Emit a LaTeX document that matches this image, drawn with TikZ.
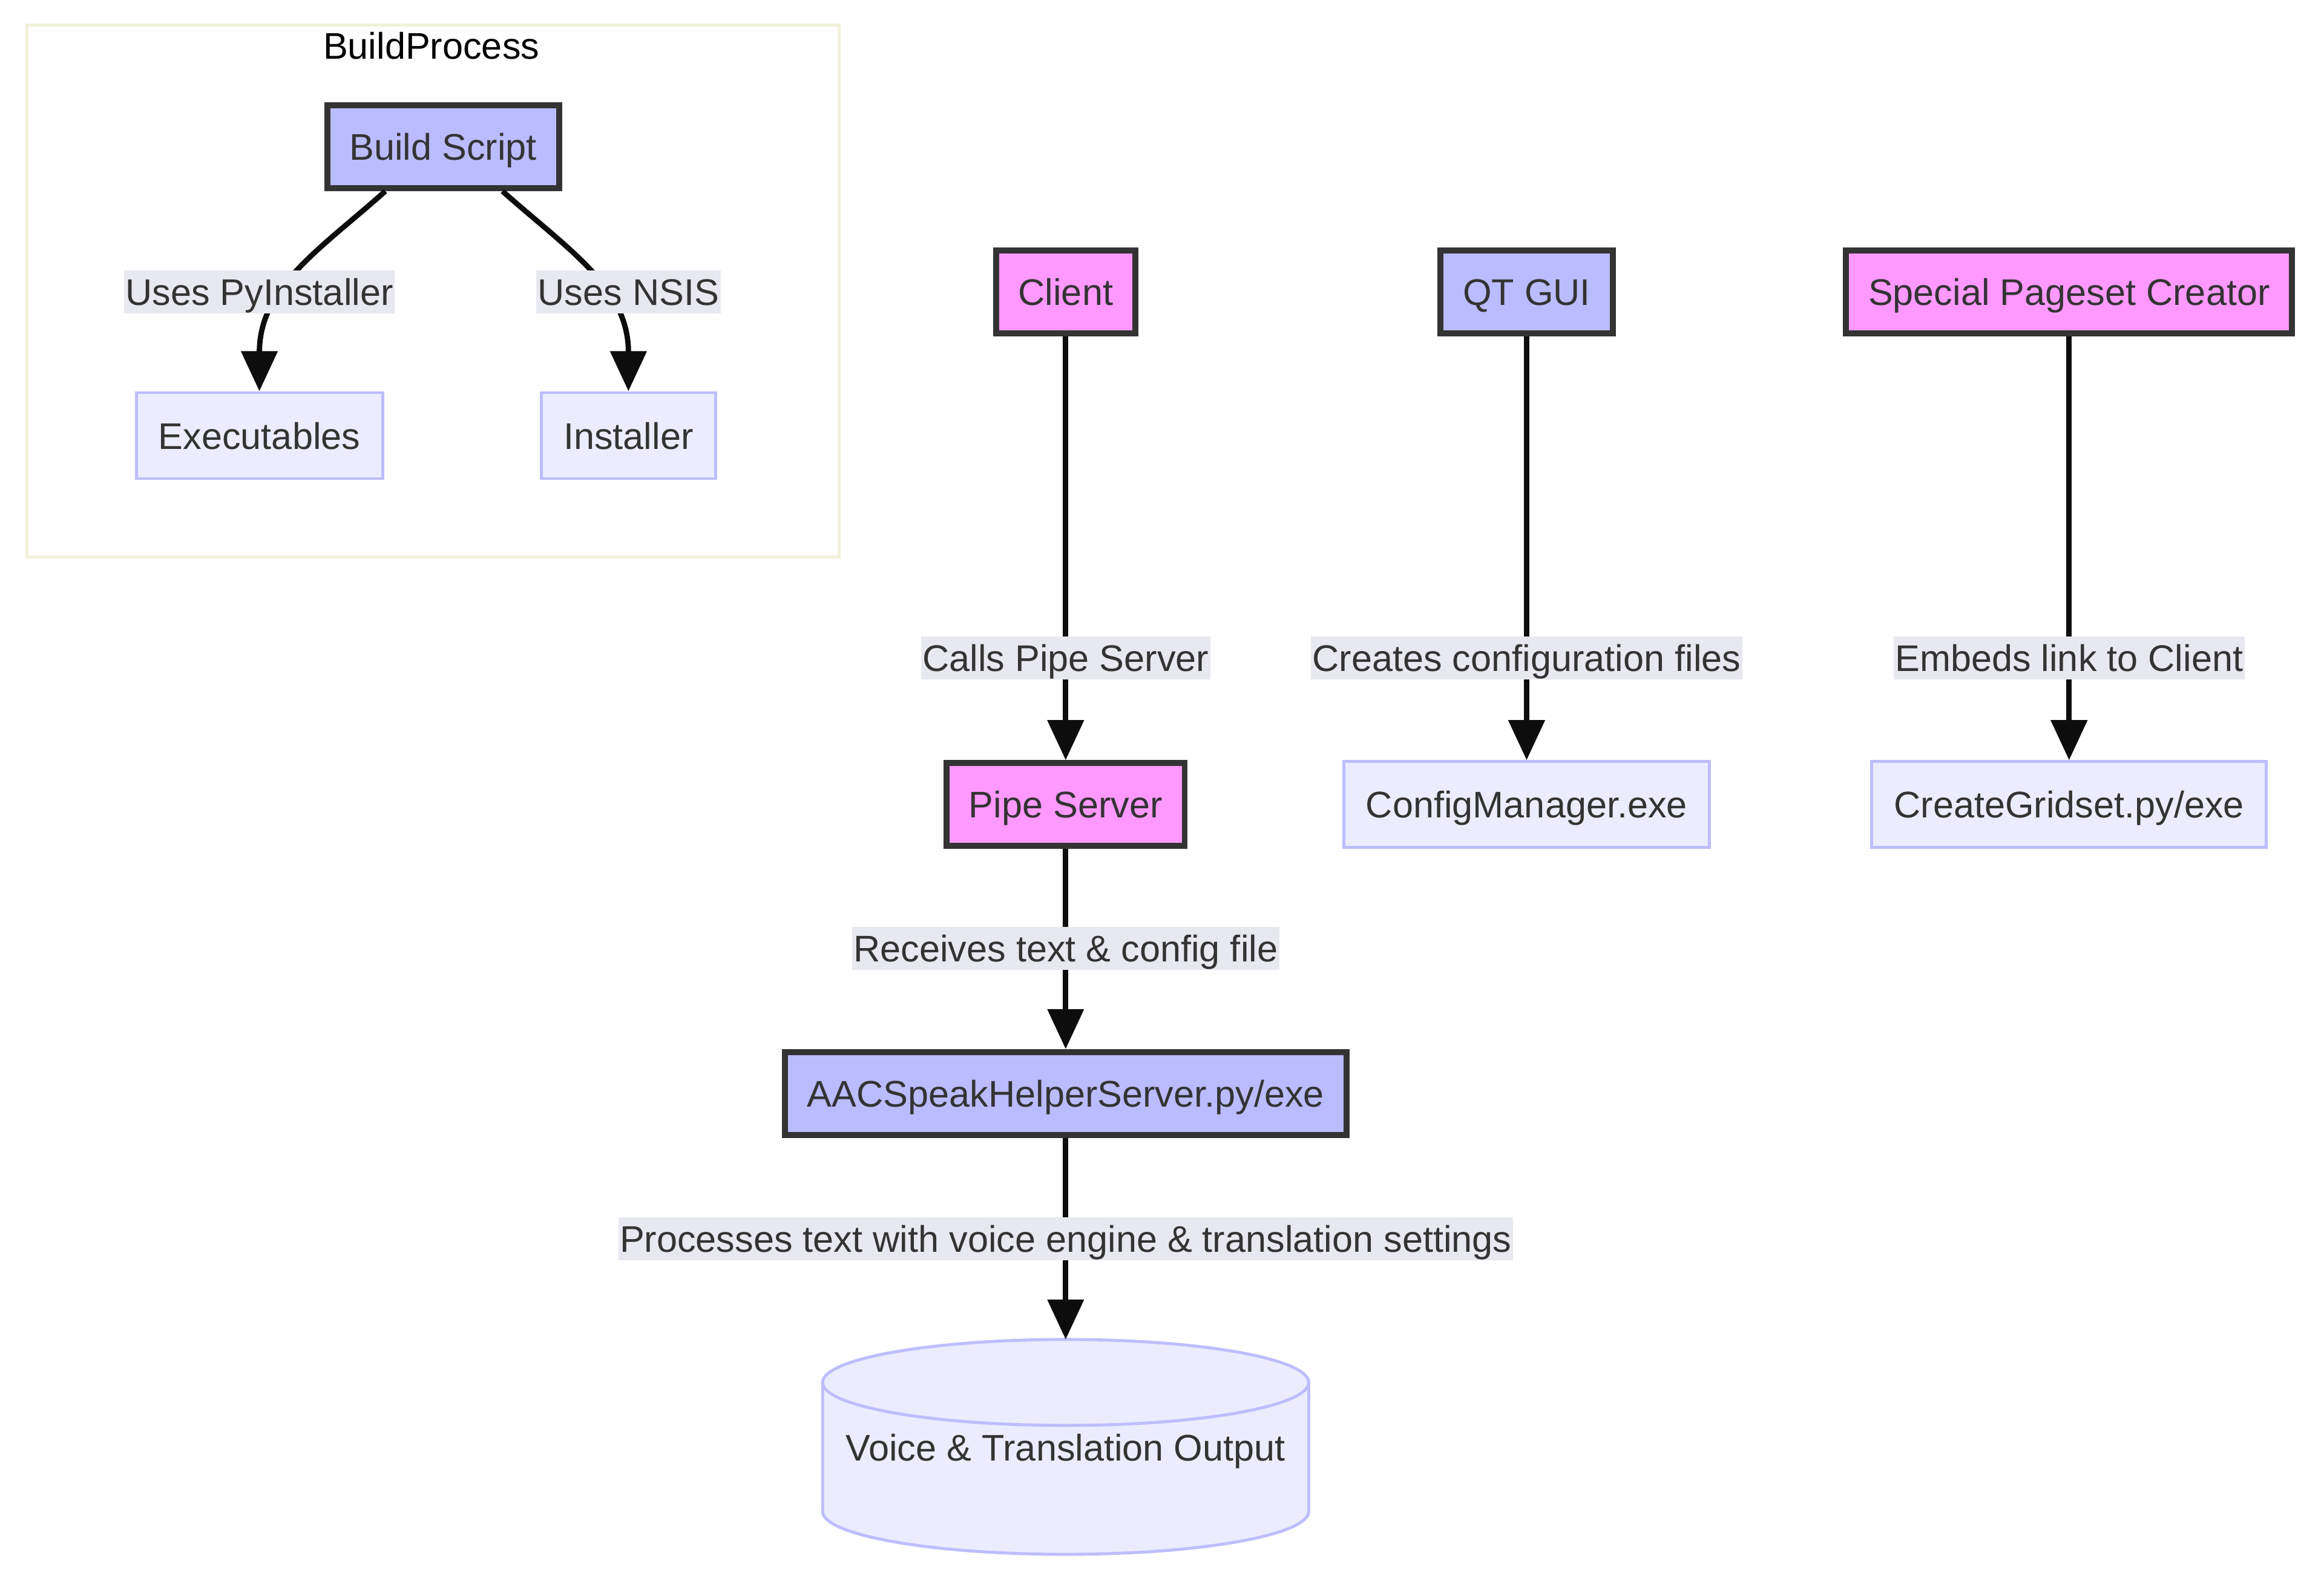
\documentclass[tikz,border=0pt]{standalone}
\usepackage{fontspec}
\setmainfont{Liberation Sans}
\usetikzlibrary{arrows.meta}
\definecolor{procpink}{HTML}{FF99FF}
\definecolor{procblue}{HTML}{BBBBFF}
\definecolor{inkgrey}{HTML}{333333}
\definecolor{filelilac}{HTML}{ECECFF}
\definecolor{fileline}{HTML}{BDBDFF}
\definecolor{labelgrey}{HTML}{E8E8F0}
\definecolor{clusterline}{HTML}{F2F2DC}
\definecolor{arrowblack}{HTML}{0D0D0D}
\begin{document}
\begin{tikzpicture}[x=1pt,y=-1pt,
  box/.style={rectangle,inner xsep=15pt,inner ysep=0pt,text height=23pt,text depth=5pt,
    font=\fontsize{25}{30}\selectfont,text=inkgrey},
  main/.style={box,draw=inkgrey,line width=4pt,minimum height=56pt},
  pinkproc/.style={main,fill=procpink},
  blueproc/.style={main,fill=procblue},
  file/.style={box,draw=fileline,fill=filelilac,line width=2pt,minimum height=58pt},
  lbl/.style={box,fill=labelgrey,inner xsep=1pt,inner ysep=0.5pt},
  edge/.style={line width=3.6pt,draw=arrowblack,-{Triangle[length=27pt,width=24pt]}}]
  \useasboundingbox (0,0) rectangle (1568,1071);
  \draw[clusterline,line width=2pt,fill=white] (18,17) rectangle (566,376);
  \node[box,text=black,inner sep=0pt] (bptitle) at (291,31) {BuildProcess};

  \node[blueproc] (bs) at (299,99) {Build Script};
  \node[file] (exe) at (175,294) {Executables};
  \node[file] (inst) at (424,294) {Installer};
  \node[pinkproc] (client) at (719,197) {Client};
  \node[blueproc] (qt) at (1030,197) {QT GUI};
  \node[pinkproc] (spc) at (1396,197) {Special Pageset Creator};
  \node[pinkproc] (pipe) at (719,543) {Pipe Server};
  \node[file] (cfg) at (1030,543) {ConfigManager.exe};
  \node[file] (grid) at (1396,543) {CreateGridset.py/exe};
  \node[blueproc] (aac) at (719,738) {AACSpeakHelperServer.py/exe};

  \filldraw[fill=filelilac,draw=fileline,line width=2pt] (555,933) -- (555,1020)
    arc (180:0:164 and 29) -- (883,933) arc (0:-180:164 and 29) -- cycle;
  \draw[fileline,line width=2pt] (555,933) arc (180:0:164 and 29);
  \coordinate (outtop) at (719,904);
  \node[box] (out) at (719,977) {Voice \& Translation Output};

  \foreach \a/\b in {client/pipe,qt/cfg,spc/grid,pipe/aac}
    \draw[edge] (\a) -- (\b);
  \draw[edge] (aac) -- (outtop);
  \draw[edge] ([xshift=-39pt]bs.south) .. controls +(-45,40) and +(0,-70) .. (exe.north);
  \draw[edge] ([xshift=40pt]bs.south) .. controls +(45,40) and +(0,-70) .. (inst.north);

  \node[lbl] (lpy) at (175,197) {Uses PyInstaller};
  \node[lbl] (lnsis) at (424,197) {Uses NSIS};
  \node[lbl] (lcalls) at (719,444) {Calls Pipe Server};
  \node[lbl] (lcreates) at (1030,444) {Creates configuration files};
  \node[lbl] (lembeds) at (1396,444) {Embeds link to Client};
  \node[lbl] (lreceives) at (719,640) {Receives text \& config file};
  \node[lbl] (lprocesses) at (719,836) {Processes text with voice engine \& translation settings};
\end{tikzpicture}
\end{document}
